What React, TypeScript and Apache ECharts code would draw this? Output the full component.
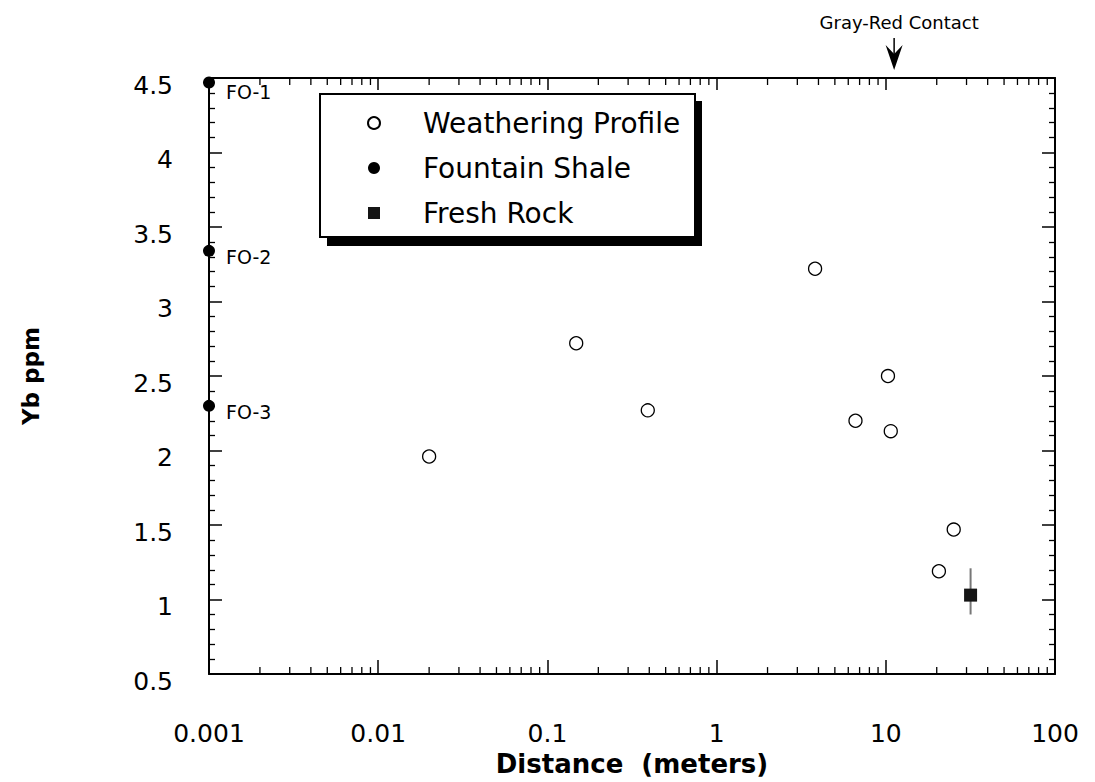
import React, { useEffect, useRef } from 'react';
import * as echarts from 'echarts';

// ---- data ----
const weatheringX = [0.02, 0.148, 0.392, 3.82, 6.62, 10.3, 10.7, 20.6, 25.2];
const weatheringY = [1.96, 2.72, 2.27, 3.22, 2.2, 2.5, 2.13, 1.19, 1.47];

const shaleNames = ['FO-1', 'FO-2', 'FO-3'];
const shaleX = [0.001, 0.001, 0.001];
const shaleY = [4.47, 3.34, 2.3];

const freshX = [31.7];
const freshY = [1.03];
const freshErrLow = [0.9];
const freshErrHigh = [1.21];

const contactX = 11.2;
const contactLabel = 'Gray-Red Contact';

const seriesNames = ['Weathering Profile', 'Fountain Shale', 'Fresh Rock'];

const xMin = 0.001;
const xMax = 100;
const yMin = 0.5;
const yMax = 4.5;
const yInterval = 0.5;

// minor log ticks (2..9 within each decade)
const minorDecades = [0.001, 0.01, 0.1, 1, 10];
const minorMultipliers = [2, 3, 4, 5, 6, 7, 8, 9];
const minorTickValues: number[] = [];
minorDecades.forEach((d) => minorMultipliers.forEach((m) => minorTickValues.push(+(d * m).toPrecision(3))));

const FONT = 'DejaVu Sans';

export default function App() {
  const ref = useRef<HTMLDivElement>(null);

  useEffect(() => {
    if (!ref.current) return;
    const chart = echarts.init(ref.current, undefined, { renderer: 'svg' });

    const axisLine = { show: true, lineStyle: { color: '#000', width: 2 } };

    const option: any = {
      animation: false,
      backgroundColor: '#fff',
      grid: { left: 209, right: 40, top: 78, bottom: 103, containLabel: false },
      xAxis: [
        {
          type: 'log',
          logBase: 10,
          min: xMin,
          max: xMax,
          position: 'bottom',
          name: 'Distance  (meters)',
          nameLocation: 'middle',
          nameGap: 71,
          nameTextStyle: { fontFamily: FONT, fontSize: 26, fontWeight: 'bold', color: '#000' },
          axisLine,
          axisTick: { show: true, inside: true, length: 14, lineStyle: { color: '#000', width: 1.5 } },
          minorTick: { show: false },
          splitLine: { show: false },
          axisLabel: {
            show: true,
            margin: 47,
            fontFamily: FONT,
            fontSize: 25,
            color: '#000',
            formatter: (v: number) => String(v),
          },
        },
        {
          type: 'log',
          logBase: 10,
          min: xMin,
          max: xMax,
          position: 'top',
          axisLine,
          axisTick: { show: true, inside: true, length: 12, lineStyle: { color: '#000', width: 1.5 } },
          splitLine: { show: false },
          axisLabel: { show: false },
        },
      ],
      yAxis: [
        {
          type: 'value',
          min: yMin,
          max: yMax,
          interval: yInterval,
          position: 'left',
          name: 'Yb ppm',
          nameLocation: 'middle',
          nameGap: 167,
          nameTextStyle: { fontFamily: FONT, fontSize: 23, fontWeight: 'bold', color: '#000' },
          axisLine,
          axisTick: { show: true, inside: true, length: 13, lineStyle: { color: '#000', width: 1.5 } },
          minorTick: { show: true, splitNumber: 5, length: 6, lineStyle: { color: '#000', width: 1.3 } },
          splitLine: { show: false },
          axisLabel: {
            show: true,
            margin: 36,
            fontFamily: FONT,
            fontSize: 25,
            color: '#000',
            verticalAlign: 'top',
            lineHeight: 14,
          },
        },
        {
          type: 'value',
          min: yMin,
          max: yMax,
          interval: yInterval,
          position: 'right',
          axisLine,
          axisTick: { show: true, inside: true, length: 13, lineStyle: { color: '#000', width: 1.5 } },
          minorTick: { show: true, splitNumber: 5, length: 6, lineStyle: { color: '#000', width: 1.3 } },
          splitLine: { show: false },
          axisLabel: { show: false },
        },
      ],
      legend: {
        data: seriesNames,
        orient: 'vertical',
        left: 367,
        top: 108,
        padding: 0,
        itemGap: 15,
        itemWidth: 12,
        itemHeight: 12,
        selectedMode: false,
        z: 10,
        textStyle: {
          fontFamily: FONT,
          fontSize: 28,
          color: '#000',
          lineHeight: 30,
          padding: [0, 0, 0, 38],
        },
      },
      graphic: [
        { type: 'rect', z: 8, shape: { x: 327, y: 101, width: 375, height: 145 }, style: { fill: '#000' } },
        {
          type: 'rect',
          z: 9,
          shape: { x: 320, y: 94, width: 375, height: 143 },
          style: { fill: '#fff', stroke: '#000', lineWidth: 2 },
        },
      ],
      series: [
        {
          type: 'custom',
          name: 'minorTicks',
          silent: true,
          clip: false,
          data: minorTickValues.map((v) => [v, yMin]),
          encode: { x: 0, y: 1 },
          renderItem: (_p: any, api: any) => {
            const v = api.value(0);
            const b = api.coord([v, yMin]);
            const t = api.coord([v, yMax]);
            return {
              type: 'group',
              children: [
                { type: 'line', shape: { x1: b[0], y1: b[1], x2: b[0], y2: b[1] - 7 }, style: { stroke: '#000', lineWidth: 1.3 } },
                { type: 'line', shape: { x1: t[0], y1: t[1], x2: t[0], y2: t[1] + 7 }, style: { stroke: '#000', lineWidth: 1.3 } },
              ],
            };
          },
        },
        {
          type: 'custom',
          name: 'contact',
          silent: true,
          clip: false,
          data: [[contactX, yMax]],
          encode: { x: 0, y: 1 },
          renderItem: (_p: any, api: any) => {
            const p = api.coord([api.value(0), api.value(1)]);
            return {
              type: 'group',
              children: [
                {
                  type: 'text',
                  style: {
                    text: contactLabel,
                    x: p[0] + 5,
                    y: p[1] - 56,
                    align: 'center',
                    verticalAlign: 'middle',
                    font: `18px "${FONT}"`,
                    fill: '#000',
                  },
                },
                { type: 'line', shape: { x1: p[0], y1: p[1] - 40, x2: p[0], y2: p[1] - 22 }, style: { stroke: '#000', lineWidth: 1.5 } },
                {
                  type: 'polygon',
                  shape: {
                    points: [
                      [p[0] - 8.5, p[1] - 33],
                      [p[0], p[1] - 8],
                      [p[0] + 8.5, p[1] - 33],
                      [p[0], p[1] - 24],
                    ],
                  },
                  style: { fill: '#000' },
                },
              ],
            };
          },
        },
        {
          type: 'custom',
          name: 'errorBar',
          silent: true,
          clip: false,
          z: 2,
          data: freshX.map((x, i) => [x, freshErrLow[i], freshErrHigh[i]]),
          encode: { x: 0, y: [1, 2] },
          renderItem: (_p: any, api: any) => {
            const lo = api.coord([api.value(0), api.value(1)]);
            const hi = api.coord([api.value(0), api.value(2)]);
            return {
              type: 'line',
              shape: { x1: lo[0], y1: lo[1], x2: hi[0], y2: hi[1] },
              style: { stroke: '#777', lineWidth: 2 },
            };
          },
        },
        {
          type: 'scatter',
          name: seriesNames[0],
          symbol: 'circle',
          symbolSize: 13,
          clip: false,
          z: 3,
          itemStyle: { color: '#fff', borderColor: '#000', borderWidth: 1.3, opacity: 1 },
          data: weatheringX.map((x, i) => [x, weatheringY[i]]),
        },
        {
          type: 'scatter',
          name: seriesNames[1],
          symbol: 'circle',
          symbolSize: 12,
          clip: false,
          z: 3,
          itemStyle: { color: '#000', opacity: 1 },
          label: {
            show: true,
            position: 'right',
            distance: 11,
            fontFamily: FONT,
            fontSize: 19,
            color: '#000',
            formatter: (p: any) => p.name,
          },
          data: shaleX.map((x, i) => ({
            name: shaleNames[i],
            value: [x, shaleY[i]],
            label: { offset: [0, i === 0 ? 10 : 6] },
          })),
        },
        {
          type: 'scatter',
          name: seriesNames[2],
          symbol: 'rect',
          symbolSize: 13,
          clip: false,
          z: 4,
          itemStyle: { color: '#151515', opacity: 1 },
          data: freshX.map((x, i) => [x, freshY[i]]),
        },
      ],
    };

    chart.setOption(option);
    return () => chart.dispose();
  }, []);

  return (
    <div
      ref={ref}
      style={{ position: 'fixed', left: 0, top: 0, width: 1095, height: 782, background: '#fff' }}
    />
  );
}
